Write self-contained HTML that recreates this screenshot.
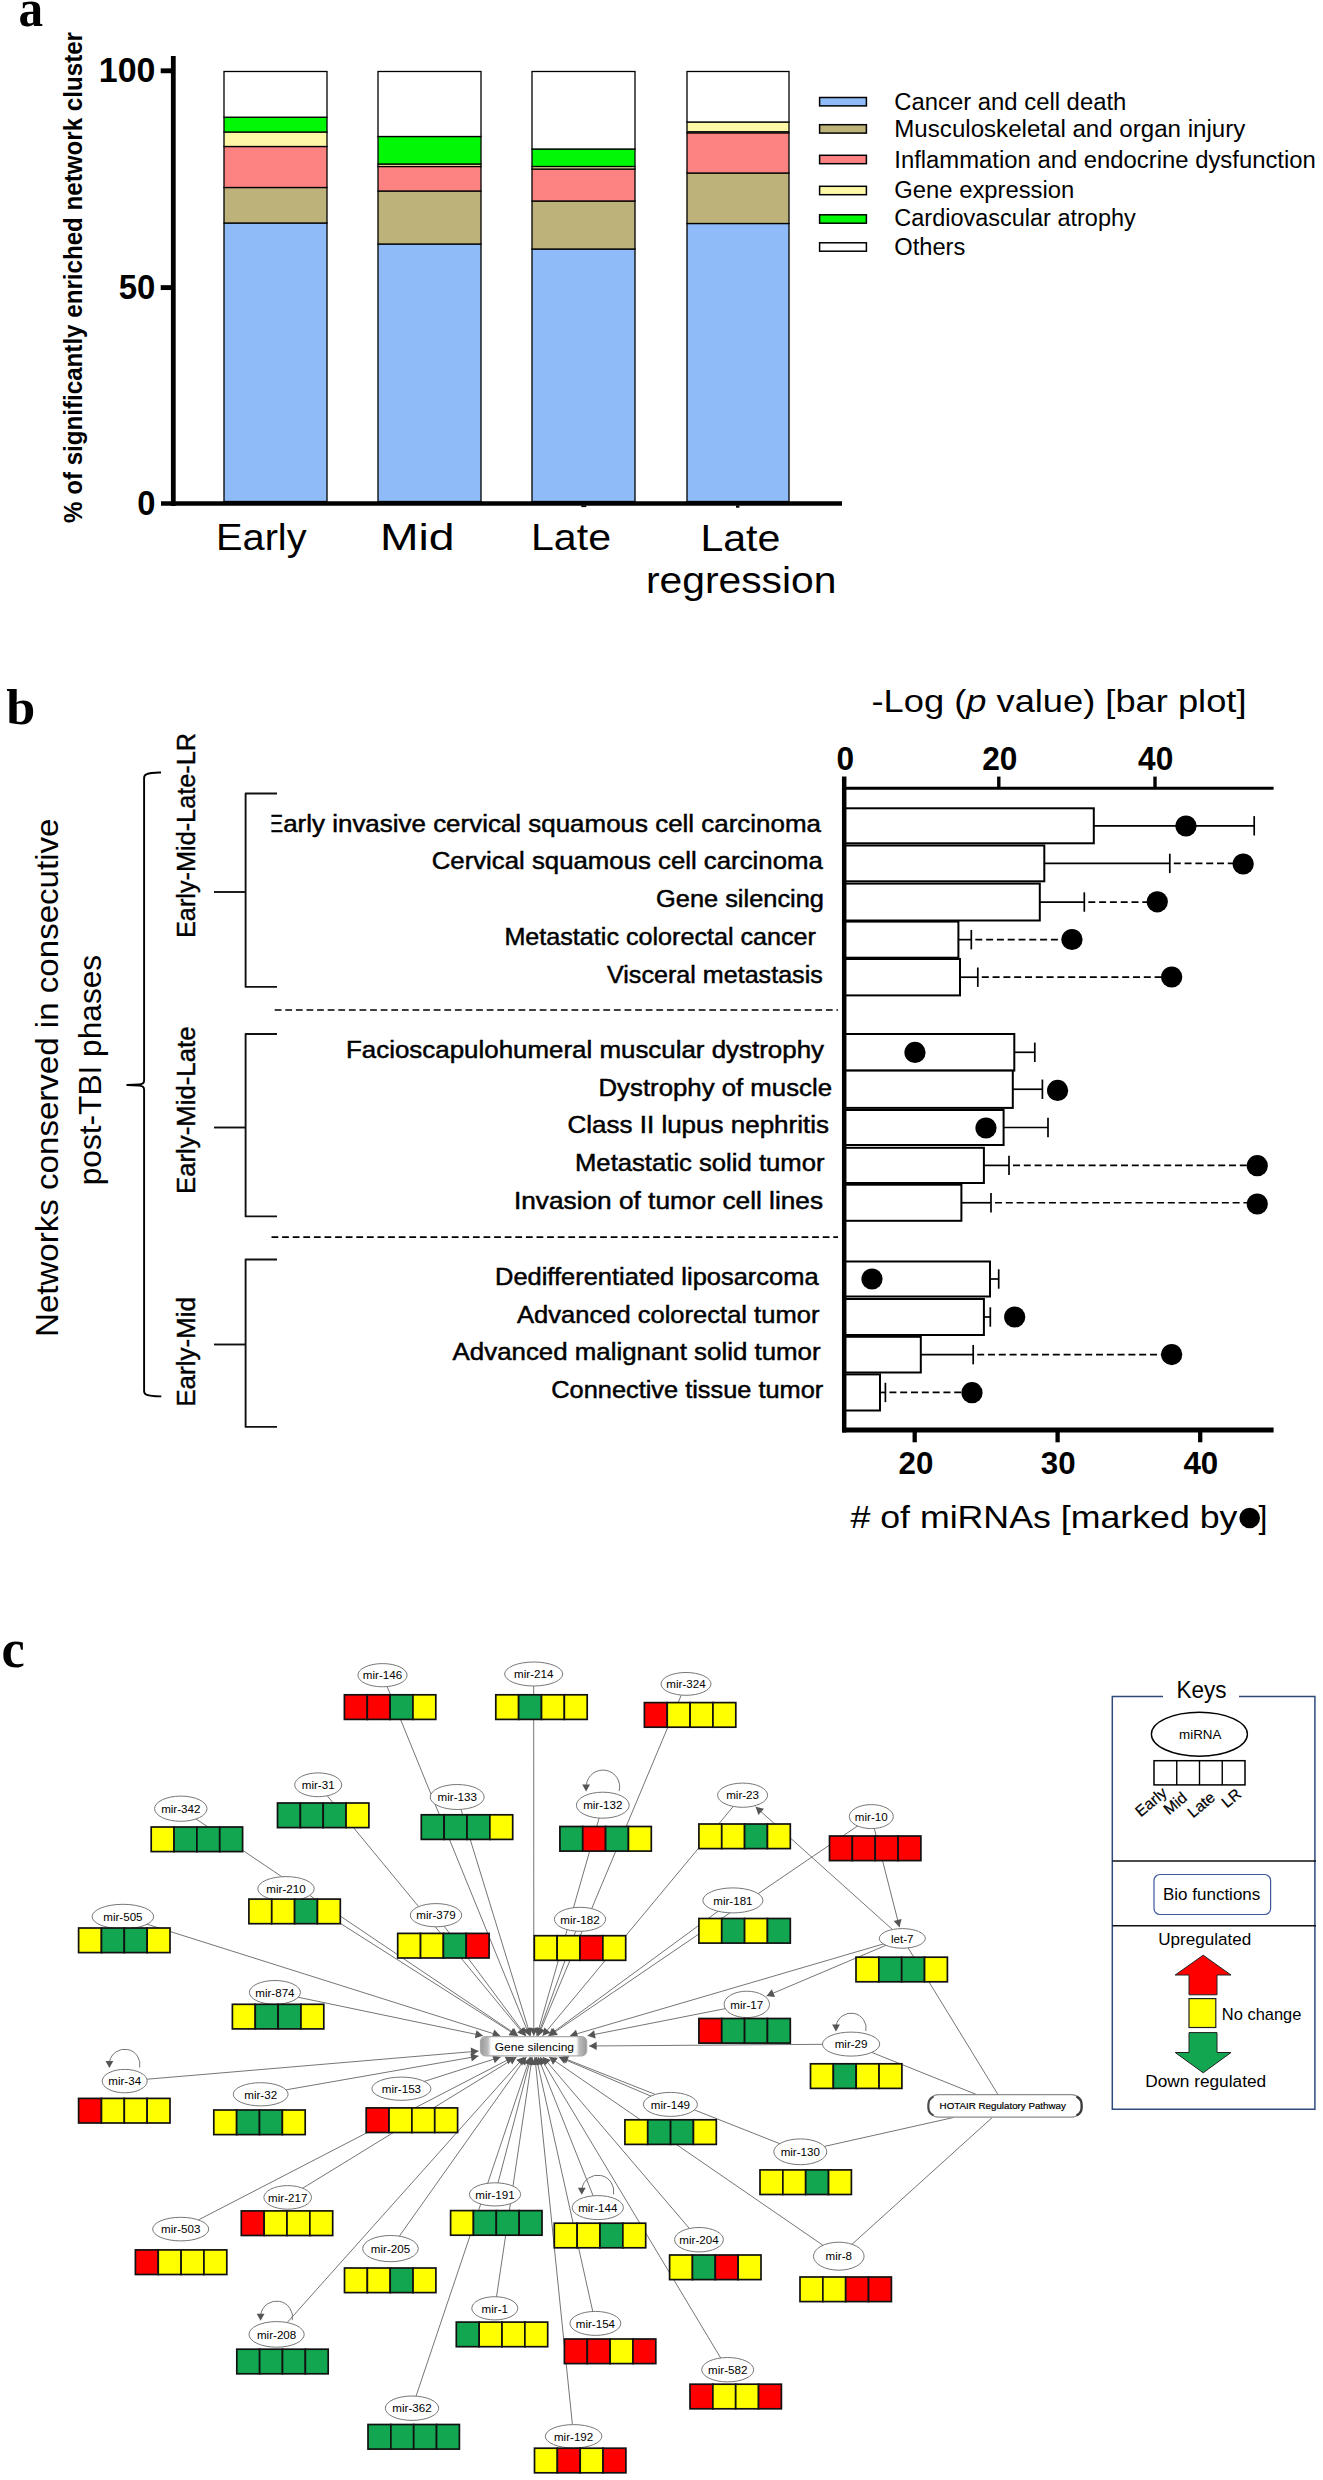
<!DOCTYPE html>
<html><head><meta charset="utf-8"><title>Figure</title>
<style>html,body{margin:0;padding:0;background:#fff}svg{display:block}</style>
</head><body>
<svg width="1323" height="2480" viewBox="0 0 1323 2480">
<rect width="1323" height="2480" fill="#fff"/>
<g id="panelA">
<text x="18.6" y="26.3" font-family="Liberation Serif" font-size="53.5" font-weight="bold" text-anchor="start" fill="#000" textLength="24.6" lengthAdjust="spacingAndGlyphs" >a</text>
<text x="82" y="523" font-family="Liberation Sans" font-size="25" font-weight="bold" text-anchor="start" fill="#000" textLength="491" lengthAdjust="spacingAndGlyphs" transform="rotate(-90 82 523)" >% of significantly enriched network cluster</text>
<rect x="224" y="223" width="103" height="278.5" fill="#8fbcf8" stroke="#000" stroke-width="1.3"/>
<rect x="224" y="187.5" width="103" height="35.5" fill="#beb27b" stroke="#000" stroke-width="1.3"/>
<rect x="224" y="146.5" width="103" height="41.0" fill="#fd8282" stroke="#000" stroke-width="1.3"/>
<rect x="224" y="132" width="103" height="14.5" fill="#fdf7a6" stroke="#000" stroke-width="1.3"/>
<rect x="224" y="117.2" width="103" height="14.799999999999997" fill="#00f806" stroke="#000" stroke-width="1.3"/>
<rect x="224" y="71.5" width="103" height="45.7" fill="#ffffff" stroke="#000" stroke-width="1.3"/>
<rect x="378" y="244" width="103" height="257.5" fill="#8fbcf8" stroke="#000" stroke-width="1.3"/>
<rect x="378" y="191" width="103" height="53" fill="#beb27b" stroke="#000" stroke-width="1.3"/>
<rect x="378" y="166.5" width="103" height="24.5" fill="#fd8282" stroke="#000" stroke-width="1.3"/>
<rect x="378" y="164" width="103" height="2.5" fill="#fdf7a6" stroke="#000" stroke-width="1.3"/>
<rect x="378" y="136.5" width="103" height="27.5" fill="#00f806" stroke="#000" stroke-width="1.3"/>
<rect x="378" y="71.5" width="103" height="65.0" fill="#ffffff" stroke="#000" stroke-width="1.3"/>
<rect x="532" y="249" width="103" height="252.5" fill="#8fbcf8" stroke="#000" stroke-width="1.3"/>
<rect x="532" y="201" width="103" height="48" fill="#beb27b" stroke="#000" stroke-width="1.3"/>
<rect x="532" y="169" width="103" height="32" fill="#fd8282" stroke="#000" stroke-width="1.3"/>
<rect x="532" y="166.5" width="103" height="2.5" fill="#fdf7a6" stroke="#000" stroke-width="1.3"/>
<rect x="532" y="149" width="103" height="17.5" fill="#00f806" stroke="#000" stroke-width="1.3"/>
<rect x="532" y="71.5" width="103" height="77.5" fill="#ffffff" stroke="#000" stroke-width="1.3"/>
<rect x="687" y="223.5" width="102" height="278.0" fill="#8fbcf8" stroke="#000" stroke-width="1.3"/>
<rect x="687" y="173" width="102" height="50.5" fill="#beb27b" stroke="#000" stroke-width="1.3"/>
<rect x="687" y="132.8" width="102" height="40.19999999999999" fill="#fd8282" stroke="#000" stroke-width="1.3"/>
<rect x="687" y="122" width="102" height="10.800000000000011" fill="#fdf7a6" stroke="#000" stroke-width="1.3"/>
<rect x="687" y="71.5" width="102" height="50.5" fill="#ffffff" stroke="#000" stroke-width="1.3"/>
<line x1="687" y1="131.6" x2="789" y2="131.6" stroke="#000" stroke-width="1"/>
<line x1="173.3" y1="56" x2="173.3" y2="506" stroke="#000" stroke-width="4.8"/>
<line x1="161" y1="503.5" x2="842" y2="503.5" stroke="#000" stroke-width="4.6"/>
<rect x="581.3" y="505.5" width="5" height="1.6" fill="#000"/>
<rect x="736" y="505.5" width="3.4" height="2.2" fill="#000"/>
<line x1="160.7" y1="70.8" x2="173.3" y2="70.8" stroke="#000" stroke-width="4.9"/>
<line x1="160.7" y1="287.6" x2="173.3" y2="287.6" stroke="#000" stroke-width="4.9"/>
<text x="155.4" y="82" font-family="Liberation Sans" font-size="34.2" font-weight="bold" text-anchor="end" fill="#000" textLength="56.6" lengthAdjust="spacingAndGlyphs" >100</text>
<text x="155.4" y="298.7" font-family="Liberation Sans" font-size="34.2" font-weight="bold" text-anchor="end" fill="#000" textLength="36.6" lengthAdjust="spacingAndGlyphs" >50</text>
<text x="155.4" y="514.8" font-family="Liberation Sans" font-size="34.2" font-weight="bold" text-anchor="end" fill="#000" textLength="18.2" lengthAdjust="spacingAndGlyphs" >0</text>
<text x="261.3" y="550" font-family="Liberation Sans" font-size="37.6" font-weight="normal" text-anchor="middle" fill="#000" textLength="90.6" lengthAdjust="spacingAndGlyphs" >Early</text>
<text x="417.3" y="550" font-family="Liberation Sans" font-size="37.6" font-weight="normal" text-anchor="middle" fill="#000" textLength="74.6" lengthAdjust="spacingAndGlyphs" >Mid</text>
<text x="571" y="550" font-family="Liberation Sans" font-size="37.6" font-weight="normal" text-anchor="middle" fill="#000" textLength="80" lengthAdjust="spacingAndGlyphs" >Late</text>
<text x="740.4" y="551.2" font-family="Liberation Sans" font-size="37.6" font-weight="normal" text-anchor="middle" fill="#000" textLength="80" lengthAdjust="spacingAndGlyphs" >Late</text>
<text x="741.2" y="592.6" font-family="Liberation Sans" font-size="37.6" font-weight="normal" text-anchor="middle" fill="#000" textLength="190.5" lengthAdjust="spacingAndGlyphs" >regression</text>
<rect x="819.6" y="97.5" width="46.8" height="8.4" fill="#8fbcf8" stroke="#000" stroke-width="1.5"/>
<text x="894.3" y="109.6" font-family="Liberation Sans" font-size="23.5" font-weight="normal" text-anchor="start" fill="#000" textLength="232" lengthAdjust="spacingAndGlyphs" >Cancer and cell death</text>
<rect x="819.6" y="124.7" width="46.8" height="8.4" fill="#beb27b" stroke="#000" stroke-width="1.5"/>
<text x="894.3" y="137.2" font-family="Liberation Sans" font-size="23.5" font-weight="normal" text-anchor="start" fill="#000" textLength="351" lengthAdjust="spacingAndGlyphs" >Musculoskeletal and organ injury</text>
<rect x="819.6" y="155.3" width="46.8" height="8.4" fill="#fd8282" stroke="#000" stroke-width="1.5"/>
<text x="894.3" y="168.1" font-family="Liberation Sans" font-size="23.5" font-weight="normal" text-anchor="start" fill="#000" textLength="421.5" lengthAdjust="spacingAndGlyphs" >Inflammation and endocrine dysfunction</text>
<rect x="819.6" y="186.3" width="46.8" height="8.4" fill="#fdf7a6" stroke="#000" stroke-width="1.5"/>
<text x="894.3" y="198.2" font-family="Liberation Sans" font-size="23.5" font-weight="normal" text-anchor="start" fill="#000" textLength="180" lengthAdjust="spacingAndGlyphs" >Gene expression</text>
<rect x="819.6" y="214.8" width="46.8" height="8.4" fill="#00f806" stroke="#000" stroke-width="1.5"/>
<text x="894.3" y="225.7" font-family="Liberation Sans" font-size="23.5" font-weight="normal" text-anchor="start" fill="#000" textLength="241.5" lengthAdjust="spacingAndGlyphs" >Cardiovascular atrophy</text>
<rect x="819.6" y="242.8" width="46.8" height="8.4" fill="#ffffff" stroke="#000" stroke-width="1.5"/>
<text x="894.3" y="255.1" font-family="Liberation Sans" font-size="23.5" font-weight="normal" text-anchor="start" fill="#000" textLength="71" lengthAdjust="spacingAndGlyphs" >Others</text>
</g>
<g id="panelB">
<text x="6.3" y="723.5" font-family="Liberation Serif" font-size="50" font-weight="bold" text-anchor="start" fill="#000" textLength="29" lengthAdjust="spacingAndGlyphs" >b</text>
<text x="57.8" y="1337" font-family="Liberation Sans" font-size="31.8" font-weight="normal" text-anchor="start" fill="#000" textLength="518.5" lengthAdjust="spacingAndGlyphs" transform="rotate(-90 57.8 1337)" >Networks conserved in consecutive</text>
<text x="101.5" y="1185.3" font-family="Liberation Sans" font-size="31.2" font-weight="normal" text-anchor="start" fill="#000" textLength="230.5" lengthAdjust="spacingAndGlyphs" transform="rotate(-90 101.5 1185.3)" >post-TBI phases</text>
<path d="M161 772.5 Q151 772.3 146.3 774.3 Q144.1 775.3 144.1 778 L144.1 1080.5 Q144.1 1084.3 139 1084.5 L127.2 1085 L139 1085.6 Q144.1 1085.8 144.1 1089.5 L144.1 1391 Q144.1 1393.7 146.3 1394.7 Q151 1396.5 161.3 1396.4" fill="none" stroke="#000" stroke-width="1.9" stroke-linejoin="round"/>
<text x="195.1" y="938" font-family="Liberation Sans" font-size="26" font-weight="normal" text-anchor="start" fill="#000" textLength="205" lengthAdjust="spacingAndGlyphs" transform="rotate(-90 195.1 938)" stroke="#000" stroke-width="0.4">Early-Mid-Late-LR</text>
<text x="195.1" y="1194" font-family="Liberation Sans" font-size="26" font-weight="normal" text-anchor="start" fill="#000" textLength="167.5" lengthAdjust="spacingAndGlyphs" transform="rotate(-90 195.1 1194)" stroke="#000" stroke-width="0.4">Early-Mid-Late</text>
<text x="195.1" y="1406.8" font-family="Liberation Sans" font-size="26" font-weight="normal" text-anchor="start" fill="#000" textLength="109.8" lengthAdjust="spacingAndGlyphs" transform="rotate(-90 195.1 1406.8)" stroke="#000" stroke-width="0.4">Early-Mid</text>
<path d="M277 793.5 H245.6 V986.9 H277" fill="none" stroke="#111" stroke-width="1.9" stroke-linejoin="round"/>
<line x1="214" y1="892" x2="245.6" y2="892" stroke="#111" stroke-width="1.9"/>
<path d="M277 1034 H245.6 V1216.4 H277" fill="none" stroke="#111" stroke-width="1.9" stroke-linejoin="round"/>
<line x1="214" y1="1127.5" x2="245.6" y2="1127.5" stroke="#111" stroke-width="1.9"/>
<path d="M277 1259.5 H245.6 V1426.9 H277" fill="none" stroke="#111" stroke-width="1.9" stroke-linejoin="round"/>
<line x1="214" y1="1344.5" x2="245.6" y2="1344.5" stroke="#111" stroke-width="1.9"/>
<line x1="274.7" y1="1010" x2="838" y2="1010" stroke="#000" stroke-width="1.7" stroke-dasharray="6.8 3.8"/>
<line x1="271.5" y1="1237.2" x2="838" y2="1237.2" stroke="#000" stroke-width="1.7" stroke-dasharray="6.8 3.8"/>
<clipPath id="clipL"><rect x="271.5" y="780" width="600" height="700"/></clipPath>
<g clip-path="url(#clipL)">
<text x="821" y="831.5" font-family="Liberation Sans" font-size="24.6" font-weight="normal" text-anchor="end" fill="#000" textLength="555.1" lengthAdjust="spacingAndGlyphs" stroke="#000" stroke-width="0.5">Early invasive cervical squamous cell carcinoma</text>
<text x="822.8" y="869.4" font-family="Liberation Sans" font-size="24.6" font-weight="normal" text-anchor="end" fill="#000" textLength="391.09999999999997" lengthAdjust="spacingAndGlyphs" stroke="#000" stroke-width="0.5">Cervical squamous cell carcinoma</text>
<text x="824" y="907" font-family="Liberation Sans" font-size="24.6" font-weight="normal" text-anchor="end" fill="#000" textLength="168" lengthAdjust="spacingAndGlyphs" stroke="#000" stroke-width="0.5">Gene silencing</text>
<text x="816" y="944.7" font-family="Liberation Sans" font-size="24.6" font-weight="normal" text-anchor="end" fill="#000" textLength="311.6" lengthAdjust="spacingAndGlyphs" stroke="#000" stroke-width="0.5">Metastatic colorectal cancer</text>
<text x="822.8" y="982.6" font-family="Liberation Sans" font-size="24.6" font-weight="normal" text-anchor="end" fill="#000" textLength="215.79999999999995" lengthAdjust="spacingAndGlyphs" stroke="#000" stroke-width="0.5">Visceral metastasis</text>
<text x="824" y="1058.2" font-family="Liberation Sans" font-size="24.6" font-weight="normal" text-anchor="end" fill="#000" textLength="478" lengthAdjust="spacingAndGlyphs" stroke="#000" stroke-width="0.5">Facioscapulohumeral muscular dystrophy</text>
<text x="832" y="1095.5" font-family="Liberation Sans" font-size="24.6" font-weight="normal" text-anchor="end" fill="#000" textLength="233.5" lengthAdjust="spacingAndGlyphs" stroke="#000" stroke-width="0.5">Dystrophy of muscle</text>
<text x="829" y="1133.2" font-family="Liberation Sans" font-size="24.6" font-weight="normal" text-anchor="end" fill="#000" textLength="261.5" lengthAdjust="spacingAndGlyphs" stroke="#000" stroke-width="0.5">Class II lupus nephritis</text>
<text x="824.5" y="1171.2" font-family="Liberation Sans" font-size="24.6" font-weight="normal" text-anchor="end" fill="#000" textLength="249.5" lengthAdjust="spacingAndGlyphs" stroke="#000" stroke-width="0.5">Metastatic solid tumor</text>
<text x="823" y="1208.8" font-family="Liberation Sans" font-size="24.6" font-weight="normal" text-anchor="end" fill="#000" textLength="309" lengthAdjust="spacingAndGlyphs" stroke="#000" stroke-width="0.5">Invasion of tumor cell lines</text>
<text x="818.6" y="1284.6" font-family="Liberation Sans" font-size="24.6" font-weight="normal" text-anchor="end" fill="#000" textLength="323.6" lengthAdjust="spacingAndGlyphs" stroke="#000" stroke-width="0.5">Dedifferentiated liposarcoma</text>
<text x="819.4" y="1322.5" font-family="Liberation Sans" font-size="24.6" font-weight="normal" text-anchor="end" fill="#000" textLength="302.4" lengthAdjust="spacingAndGlyphs" stroke="#000" stroke-width="0.5">Advanced colorectal tumor</text>
<text x="820.6" y="1360" font-family="Liberation Sans" font-size="24.6" font-weight="normal" text-anchor="end" fill="#000" textLength="368.0" lengthAdjust="spacingAndGlyphs" stroke="#000" stroke-width="0.5">Advanced malignant solid tumor</text>
<text x="823.3" y="1398" font-family="Liberation Sans" font-size="24.6" font-weight="normal" text-anchor="end" fill="#000" textLength="272.0" lengthAdjust="spacingAndGlyphs" stroke="#000" stroke-width="0.5">Connective tissue tumor</text>
</g>
<rect x="844.7" y="808.3" width="249.0999999999999" height="35.0" fill="#fff" stroke="#000" stroke-width="2"/>
<line x1="1093.8" y1="825.8" x2="1254.2" y2="825.8" stroke="#000" stroke-width="1.7"/>
<line x1="1254.2" y1="816.0999999999999" x2="1254.2" y2="835.5" stroke="#000" stroke-width="1.7"/>
<rect x="844.7" y="845.5" width="199.5999999999999" height="35.799999999999955" fill="#fff" stroke="#000" stroke-width="2"/>
<line x1="1044.3" y1="863.4" x2="1169.8" y2="863.4" stroke="#000" stroke-width="1.7"/>
<line x1="1169.8" y1="853.6999999999999" x2="1169.8" y2="873.1" stroke="#000" stroke-width="1.7"/>
<line x1="1173.8" y1="863.4" x2="1243.2" y2="863.4" stroke="#000" stroke-width="1.7" stroke-dasharray="7 3.8"/>
<rect x="844.7" y="883.6" width="195.0999999999999" height="36.89999999999998" fill="#fff" stroke="#000" stroke-width="2"/>
<line x1="1039.8" y1="902.05" x2="1084.3" y2="902.05" stroke="#000" stroke-width="1.7"/>
<line x1="1084.3" y1="892.3499999999999" x2="1084.3" y2="911.75" stroke="#000" stroke-width="1.7"/>
<line x1="1088.3" y1="902.05" x2="1157.3" y2="902.05" stroke="#000" stroke-width="1.7" stroke-dasharray="7 3.8"/>
<rect x="844.7" y="921.6" width="113.69999999999993" height="36.10000000000002" fill="#fff" stroke="#000" stroke-width="2"/>
<line x1="958.4" y1="939.6500000000001" x2="971.3" y2="939.6500000000001" stroke="#000" stroke-width="1.7"/>
<line x1="971.3" y1="929.95" x2="971.3" y2="949.3500000000001" stroke="#000" stroke-width="1.7"/>
<line x1="975.3" y1="939.6500000000001" x2="1072" y2="939.6500000000001" stroke="#000" stroke-width="1.7" stroke-dasharray="7 3.8"/>
<rect x="844.7" y="959" width="115.29999999999995" height="36.39999999999998" fill="#fff" stroke="#000" stroke-width="2"/>
<line x1="960" y1="977.2" x2="977.8" y2="977.2" stroke="#000" stroke-width="1.7"/>
<line x1="977.8" y1="967.5" x2="977.8" y2="986.9000000000001" stroke="#000" stroke-width="1.7"/>
<line x1="981.8" y1="977.2" x2="1171.7" y2="977.2" stroke="#000" stroke-width="1.7" stroke-dasharray="7 3.8"/>
<rect x="844.7" y="1034" width="169.5999999999999" height="36.59999999999991" fill="#fff" stroke="#000" stroke-width="2"/>
<line x1="1014.3" y1="1052.3" x2="1034.8" y2="1052.3" stroke="#000" stroke-width="1.7"/>
<line x1="1034.8" y1="1042.6" x2="1034.8" y2="1062.0" stroke="#000" stroke-width="1.7"/>
<rect x="844.7" y="1070.6" width="168.0999999999999" height="37.30000000000018" fill="#fff" stroke="#000" stroke-width="2"/>
<line x1="1012.8" y1="1089.25" x2="1042.4" y2="1089.25" stroke="#000" stroke-width="1.7"/>
<line x1="1042.4" y1="1079.55" x2="1042.4" y2="1098.95" stroke="#000" stroke-width="1.7"/>
<rect x="844.7" y="1110" width="158.89999999999998" height="35" fill="#fff" stroke="#000" stroke-width="2"/>
<line x1="1003.6" y1="1127.5" x2="1048" y2="1127.5" stroke="#000" stroke-width="1.7"/>
<line x1="1048" y1="1117.8" x2="1048" y2="1137.2" stroke="#000" stroke-width="1.7"/>
<rect x="844.7" y="1147.8" width="139.19999999999993" height="35.200000000000045" fill="#fff" stroke="#000" stroke-width="2"/>
<line x1="983.9" y1="1165.4" x2="1009" y2="1165.4" stroke="#000" stroke-width="1.7"/>
<line x1="1009" y1="1155.7" x2="1009" y2="1175.1000000000001" stroke="#000" stroke-width="1.7"/>
<line x1="1013" y1="1165.4" x2="1257.3" y2="1165.4" stroke="#000" stroke-width="1.7" stroke-dasharray="7 3.8"/>
<rect x="844.7" y="1184.7" width="116.69999999999993" height="36.09999999999991" fill="#fff" stroke="#000" stroke-width="2"/>
<line x1="961.4" y1="1202.75" x2="991" y2="1202.75" stroke="#000" stroke-width="1.7"/>
<line x1="991" y1="1193.05" x2="991" y2="1212.45" stroke="#000" stroke-width="1.7"/>
<line x1="995" y1="1202.75" x2="1257.3" y2="1202.75" stroke="#000" stroke-width="1.7" stroke-dasharray="7 3.8"/>
<rect x="844.7" y="1261.5" width="145.29999999999995" height="35.0" fill="#fff" stroke="#000" stroke-width="2"/>
<line x1="990" y1="1279.0" x2="998.7" y2="1279.0" stroke="#000" stroke-width="1.7"/>
<line x1="998.7" y1="1269.3" x2="998.7" y2="1288.7" stroke="#000" stroke-width="1.7"/>
<rect x="844.7" y="1299" width="139.19999999999993" height="36" fill="#fff" stroke="#000" stroke-width="2"/>
<line x1="983.9" y1="1317.0" x2="990.3" y2="1317.0" stroke="#000" stroke-width="1.7"/>
<line x1="990.3" y1="1307.3" x2="990.3" y2="1326.7" stroke="#000" stroke-width="1.7"/>
<rect x="844.7" y="1336.8" width="76.09999999999991" height="35.700000000000045" fill="#fff" stroke="#000" stroke-width="2"/>
<line x1="920.8" y1="1354.65" x2="973.2" y2="1354.65" stroke="#000" stroke-width="1.7"/>
<line x1="973.2" y1="1344.95" x2="973.2" y2="1364.3500000000001" stroke="#000" stroke-width="1.7"/>
<line x1="977.2" y1="1354.65" x2="1171.7" y2="1354.65" stroke="#000" stroke-width="1.7" stroke-dasharray="7 3.8"/>
<rect x="844.7" y="1374.4" width="35.299999999999955" height="36.09999999999991" fill="#fff" stroke="#000" stroke-width="2"/>
<line x1="880" y1="1392.45" x2="885.4" y2="1392.45" stroke="#000" stroke-width="1.7"/>
<line x1="885.4" y1="1382.75" x2="885.4" y2="1402.15" stroke="#000" stroke-width="1.7"/>
<line x1="889.4" y1="1392.45" x2="972" y2="1392.45" stroke="#000" stroke-width="1.7" stroke-dasharray="7 3.8"/>
<circle cx="1186" cy="826" r="10.6" fill="#000"/>
<circle cx="1243.2" cy="864" r="10.6" fill="#000"/>
<circle cx="1157.3" cy="901.8" r="10.6" fill="#000"/>
<circle cx="1072" cy="939.5" r="10.6" fill="#000"/>
<circle cx="1171.7" cy="977" r="10.6" fill="#000"/>
<circle cx="915" cy="1052.4" r="10.6" fill="#000"/>
<circle cx="1057.6" cy="1090.4" r="10.6" fill="#000"/>
<circle cx="986" cy="1128" r="10.6" fill="#000"/>
<circle cx="1257.3" cy="1165.7" r="10.6" fill="#000"/>
<circle cx="1257.3" cy="1204" r="10.6" fill="#000"/>
<circle cx="872" cy="1279" r="10.6" fill="#000"/>
<circle cx="1014.7" cy="1317" r="10.6" fill="#000"/>
<circle cx="1171.7" cy="1354.6" r="10.6" fill="#000"/>
<circle cx="972" cy="1392.7" r="10.6" fill="#000"/>
<line x1="844.2" y1="776.6" x2="844.2" y2="1432.4" stroke="#000" stroke-width="4.5"/>
<line x1="844" y1="788.2" x2="1273.6" y2="788.2" stroke="#000" stroke-width="3"/>
<line x1="998.8" y1="776.6" x2="998.8" y2="788.5" stroke="#000" stroke-width="3.4"/>
<line x1="1155" y1="776.6" x2="1155" y2="788.5" stroke="#000" stroke-width="3.4"/>
<line x1="842.2" y1="1430" x2="1273.6" y2="1430" stroke="#000" stroke-width="4.9"/>
<line x1="914.7" y1="1430" x2="914.7" y2="1442.3" stroke="#000" stroke-width="4.3"/>
<line x1="1057.6" y1="1430" x2="1057.6" y2="1442.3" stroke="#000" stroke-width="4.3"/>
<line x1="1200.2" y1="1430" x2="1200.2" y2="1442.3" stroke="#000" stroke-width="4.3"/>
<text x="845.2" y="769.9" font-family="Liberation Sans" font-size="32.4" font-weight="bold" text-anchor="middle" fill="#000" textLength="17.6" lengthAdjust="spacingAndGlyphs" >0</text>
<text x="999.8" y="769.9" font-family="Liberation Sans" font-size="32.4" font-weight="bold" text-anchor="middle" fill="#000" textLength="35.2" lengthAdjust="spacingAndGlyphs" >20</text>
<text x="1155.7" y="769.9" font-family="Liberation Sans" font-size="32.4" font-weight="bold" text-anchor="middle" fill="#000" textLength="35.2" lengthAdjust="spacingAndGlyphs" >40</text>
<text x="915.9" y="1473.5" font-family="Liberation Sans" font-size="31.6" font-weight="bold" text-anchor="middle" fill="#000" textLength="34.8" lengthAdjust="spacingAndGlyphs" >20</text>
<text x="1058.2" y="1473.5" font-family="Liberation Sans" font-size="31.6" font-weight="bold" text-anchor="middle" fill="#000" textLength="34.8" lengthAdjust="spacingAndGlyphs" >30</text>
<text x="1200.8" y="1473.5" font-family="Liberation Sans" font-size="31.6" font-weight="bold" text-anchor="middle" fill="#000" textLength="34.8" lengthAdjust="spacingAndGlyphs" >40</text>
<text x="871.5" y="711.6" font-family="Liberation Sans, sans-serif" font-size="32.2" textLength="375" lengthAdjust="spacingAndGlyphs">-Log (<tspan font-style="italic">p</tspan> value) [bar plot]</text>
<text x="850.4" y="1527.6" font-family="Liberation Sans" font-size="32" font-weight="normal" text-anchor="start" fill="#000" textLength="387" lengthAdjust="spacingAndGlyphs" ># of miRNAs [marked by</text>
<text x="1258.5" y="1527.6" font-family="Liberation Sans" font-size="32" font-weight="normal" text-anchor="start" fill="#000" >]</text>
<circle cx="1249.7" cy="1518" r="10.3" fill="#000"/>
</g>
<g id="panelC">
<text x="1.6" y="1666.8" font-family="Liberation Serif, serif" font-size="54" font-weight="bold" textLength="23.2" lengthAdjust="spacingAndGlyphs">c</text>
<line x1="382.5" y1="1675.2" x2="529.5" y2="2035.8" stroke="#757575" stroke-width="1"/>
<line x1="533.7" y1="1674.0" x2="533.8" y2="2035.8" stroke="#757575" stroke-width="1"/>
<line x1="686.0" y1="1683.9" x2="538.3" y2="2035.8" stroke="#757575" stroke-width="1"/>
<line x1="318.2" y1="1784.8" x2="525.1" y2="2035.8" stroke="#757575" stroke-width="1"/>
<line x1="457.2" y1="1797.0" x2="530.5" y2="2035.8" stroke="#757575" stroke-width="1"/>
<line x1="602.8" y1="1805.2" x2="536.8" y2="2035.8" stroke="#757575" stroke-width="1"/>
<line x1="742.6" y1="1795.2" x2="542.6" y2="2035.8" stroke="#757575" stroke-width="1"/>
<line x1="871.3" y1="1816.6" x2="549.4" y2="2035.8" stroke="#757575" stroke-width="1"/>
<line x1="180.8" y1="1808.7" x2="518.1" y2="2035.8" stroke="#757575" stroke-width="1"/>
<line x1="286.0" y1="1888.8" x2="517.1" y2="2035.8" stroke="#757575" stroke-width="1"/>
<line x1="436.0" y1="1915.2" x2="525.9" y2="2035.8" stroke="#757575" stroke-width="1"/>
<line x1="580.0" y1="1919.3" x2="537.7" y2="2035.8" stroke="#757575" stroke-width="1"/>
<line x1="732.9" y1="1900.4" x2="548.3" y2="2035.8" stroke="#757575" stroke-width="1"/>
<line x1="902.3" y1="1938.4" x2="570.0" y2="2035.8" stroke="#757575" stroke-width="1"/>
<line x1="122.9" y1="1916.6" x2="500.2" y2="2035.8" stroke="#757575" stroke-width="1"/>
<line x1="274.9" y1="1992.4" x2="483.0" y2="2035.8" stroke="#757575" stroke-width="1"/>
<line x1="746.8" y1="2004.4" x2="587.6" y2="2035.8" stroke="#757575" stroke-width="1"/>
<line x1="851.1" y1="2044.1" x2="589.1" y2="2046.0" stroke="#757575" stroke-width="1"/>
<line x1="124.7" y1="2081.1" x2="478.5" y2="2051.1" stroke="#757575" stroke-width="1"/>
<line x1="260.7" y1="2094.3" x2="478.5" y2="2056.1" stroke="#757575" stroke-width="1"/>
<line x1="401.4" y1="2088.7" x2="500.6" y2="2057.0" stroke="#757575" stroke-width="1"/>
<line x1="670.4" y1="2104.4" x2="558.8" y2="2057.0" stroke="#757575" stroke-width="1"/>
<line x1="800.3" y1="2151.8" x2="560.6" y2="2057.0" stroke="#757575" stroke-width="1"/>
<line x1="287.7" y1="2197.4" x2="516.5" y2="2057.0" stroke="#757575" stroke-width="1"/>
<line x1="180.7" y1="2229.1" x2="513.3" y2="2057.0" stroke="#757575" stroke-width="1"/>
<line x1="390.5" y1="2248.6" x2="526.3" y2="2057.0" stroke="#757575" stroke-width="1"/>
<line x1="495.0" y1="2194.4" x2="531.0" y2="2057.0" stroke="#757575" stroke-width="1"/>
<line x1="597.8" y1="2207.6" x2="538.0" y2="2057.0" stroke="#757575" stroke-width="1"/>
<line x1="699.0" y1="2239.7" x2="542.9" y2="2057.0" stroke="#757575" stroke-width="1"/>
<line x1="838.8" y1="2256.2" x2="549.2" y2="2057.0" stroke="#757575" stroke-width="1"/>
<line x1="276.6" y1="2334.4" x2="524.3" y2="2057.0" stroke="#757575" stroke-width="1"/>
<line x1="494.8" y1="2308.3" x2="532.2" y2="2057.0" stroke="#757575" stroke-width="1"/>
<line x1="595.4" y1="2323.4" x2="536.2" y2="2057.0" stroke="#757575" stroke-width="1"/>
<line x1="727.7" y1="2369.7" x2="540.2" y2="2057.0" stroke="#757575" stroke-width="1"/>
<line x1="412.0" y1="2408.2" x2="530.2" y2="2057.0" stroke="#757575" stroke-width="1"/>
<line x1="573.6" y1="2436.3" x2="534.9" y2="2057.0" stroke="#757575" stroke-width="1"/>
<line x1="902.3" y1="1938.4" x2="998.0" y2="2094.6" stroke="#757575" stroke-width="1"/>
<line x1="851.1" y1="2044.1" x2="976.7" y2="2094.6" stroke="#757575" stroke-width="1"/>
<line x1="800.3" y1="2151.8" x2="954.0" y2="2117.4" stroke="#757575" stroke-width="1"/>
<line x1="838.8" y1="2256.2" x2="992.4" y2="2117.4" stroke="#757575" stroke-width="1"/>
<line x1="871.3" y1="1816.6" x2="899.5" y2="1927.2" stroke="#757575" stroke-width="1"/>
<line x1="902.3" y1="1938.4" x2="755.6" y2="1806.8" stroke="#757575" stroke-width="1"/>
<line x1="902.3" y1="1938.4" x2="766.5" y2="1996.0" stroke="#757575" stroke-width="1"/>
<polygon points="529.5,2035.8 522.8,2030.4 530.5,2027.3" fill="#555"/>
<polygon points="533.8,2035.8 529.6,2028.3 538.0,2028.3" fill="#555"/>
<polygon points="538.3,2035.8 537.3,2027.3 545.0,2030.5" fill="#555"/>
<polygon points="525.1,2035.8 517.1,2032.6 523.5,2027.3" fill="#555"/>
<polygon points="530.5,2035.8 524.4,2029.8 532.3,2027.4" fill="#555"/>
<polygon points="536.8,2035.8 534.9,2027.4 542.9,2029.7" fill="#555"/>
<polygon points="542.6,2035.8 544.2,2027.4 550.6,2032.7" fill="#555"/>
<polygon points="549.4,2035.8 553.2,2028.1 557.9,2035.0" fill="#555"/>
<polygon points="518.1,2035.8 509.5,2035.1 514.1,2028.1" fill="#555"/>
<polygon points="517.1,2035.8 508.5,2035.3 513.0,2028.2" fill="#555"/>
<polygon points="525.9,2035.8 518.1,2032.3 524.7,2027.3" fill="#555"/>
<polygon points="537.7,2035.8 536.3,2027.3 544.1,2030.2" fill="#555"/>
<polygon points="548.3,2035.8 551.9,2028.0 556.8,2034.7" fill="#555"/>
<polygon points="570.0,2035.8 576.0,2029.7 578.4,2037.7" fill="#555"/>
<polygon points="500.2,2035.8 491.8,2037.5 494.3,2029.6" fill="#555"/>
<polygon points="483.0,2035.8 474.8,2038.3 476.5,2030.2" fill="#555"/>
<polygon points="587.6,2035.8 594.1,2030.3 595.7,2038.4" fill="#555"/>
<polygon points="589.1,2046.0 596.6,2041.8 596.7,2050.1" fill="#555"/>
<polygon points="478.5,2051.1 471.4,2055.9 470.7,2047.6" fill="#555"/>
<polygon points="478.5,2056.1 471.8,2061.5 470.4,2053.3" fill="#555"/>
<polygon points="500.6,2057.0 494.7,2063.3 492.2,2055.3" fill="#555"/>
<polygon points="558.8,2057.0 567.3,2056.1 564.1,2063.8" fill="#555"/>
<polygon points="560.6,2057.0 569.1,2055.9 566.1,2063.6" fill="#555"/>
<polygon points="516.5,2057.0 512.3,2064.5 507.9,2057.4" fill="#555"/>
<polygon points="513.3,2057.0 508.5,2064.2 504.7,2056.8" fill="#555"/>
<polygon points="526.3,2057.0 525.3,2065.5 518.5,2060.7" fill="#555"/>
<polygon points="531.0,2057.0 533.1,2065.3 525.1,2063.2" fill="#555"/>
<polygon points="538.0,2057.0 544.7,2062.5 536.9,2065.5" fill="#555"/>
<polygon points="542.9,2057.0 550.9,2060.0 544.6,2065.4" fill="#555"/>
<polygon points="549.2,2057.0 557.8,2057.8 553.0,2064.7" fill="#555"/>
<polygon points="524.3,2057.0 522.4,2065.4 516.2,2059.8" fill="#555"/>
<polygon points="532.2,2057.0 535.2,2065.1 527.0,2063.8" fill="#555"/>
<polygon points="536.2,2057.0 541.9,2063.4 533.7,2065.2" fill="#555"/>
<polygon points="540.2,2057.0 547.6,2061.3 540.5,2065.6" fill="#555"/>
<polygon points="530.2,2057.0 531.8,2065.5 523.9,2062.8" fill="#555"/>
<polygon points="534.9,2057.0 539.8,2064.1 531.5,2064.9" fill="#555"/>
<polygon points="899.5,1927.2 893.6,1920.9 901.6,1918.9" fill="#555"/>
<polygon points="755.6,1806.8 764.0,1808.8 758.4,1815.0" fill="#555"/>
<polygon points="766.5,1996.0 771.8,1989.3 775.1,1996.9" fill="#555"/>
<defs><linearGradient id="gsg" x1="0" x2="1" y1="0" y2="0"><stop offset="0" stop-color="#999"/><stop offset="0.07" stop-color="#bbb"/><stop offset="0.1" stop-color="#fff"/><stop offset="0.9" stop-color="#fff"/><stop offset="0.93" stop-color="#bbb"/><stop offset="1" stop-color="#999"/></linearGradient></defs>
<rect x="480.5" y="2036.6" width="106.2" height="19.2" rx="5" ry="5" fill="url(#gsg)" stroke="#aaa" stroke-width="1.2"/>
<text x="534.4" y="2050.6" font-family="Liberation Sans, sans-serif" font-size="11.8" text-anchor="middle" textLength="79.2" lengthAdjust="spacingAndGlyphs">Gene silencing</text>
<rect x="928.2" y="2094.7" width="153.6" height="22.5" rx="10" ry="11.2" fill="#fff" stroke="#8c8c8c" stroke-width="1.3"/>
<path d="M1076.5 2096.6 Q1081.6 2099 1081.6 2104 V2108 Q1081.6 2113 1076.5 2115.4" fill="none" stroke="#3c3c3c" stroke-width="2.3"/>
<path d="M933.5 2096.6 Q928.4 2099 928.4 2104 V2108 Q928.4 2113 933.5 2115.4" fill="none" stroke="#4a4a4a" stroke-width="2.1"/>
<text x="939.6" y="2109.2" font-family="Liberation Sans, sans-serif" font-size="9.8" stroke="#000" stroke-width="0.2" textLength="126.3" lengthAdjust="spacingAndGlyphs">HOTAIR Regulatory Pathway</text>
<path d="M619.1 1791.1 A16.7 16.7 0 1 0 586.4 1784.7" fill="none" stroke="#757575" stroke-width="1"/>
<polygon points="586.1,1791.6 582.2,1784.6 590.0,1784.6" fill="#555"/>
<path d="M865.9 2031.1 A15.1 15.1 0 1 0 836.2 2025.4" fill="none" stroke="#757575" stroke-width="1"/>
<polygon points="836.0,2031.6 832.1,2024.6 839.9,2024.6" fill="#555"/>
<path d="M139.7 2067.5 A15.3 15.3 0 1 0 109.6 2061.6" fill="none" stroke="#757575" stroke-width="1"/>
<polygon points="109.4,2068.0 105.5,2061.0 113.3,2061.0" fill="#555"/>
<path d="M292.3 2320.2 A16 16 0 1 0 260.8 2314.1" fill="none" stroke="#757575" stroke-width="1"/>
<polygon points="260.6,2320.7 256.7,2313.7 264.5,2313.7" fill="#555"/>
<path d="M613.5 2194.3 A16 16 0 1 0 582.0 2188.2" fill="none" stroke="#757575" stroke-width="1"/>
<polygon points="581.8,2194.8 577.9,2187.8 585.7,2187.8" fill="#555"/>
<ellipse cx="382.5" cy="1675.2" rx="24.6" ry="11.6" fill="#fff" stroke="#777" stroke-width="1"/>
<text x="382.5" y="1679.4" font-family="Liberation Sans, sans-serif" font-size="11.6" text-anchor="middle">mir-146</text>
<rect x="344.40" y="1694.8" width="22.85" height="24.6" fill="#fe0000" stroke="#111" stroke-width="1.7"/>
<rect x="367.25" y="1694.8" width="22.85" height="24.6" fill="#fe0000" stroke="#111" stroke-width="1.7"/>
<rect x="390.10" y="1694.8" width="22.85" height="24.6" fill="#12a650" stroke="#111" stroke-width="1.7"/>
<rect x="412.95" y="1694.8" width="22.85" height="24.6" fill="#ffff00" stroke="#111" stroke-width="1.7"/>
<ellipse cx="533.7" cy="1674" rx="29" ry="12" fill="#fff" stroke="#777" stroke-width="1"/>
<text x="533.7" y="1678.2" font-family="Liberation Sans, sans-serif" font-size="11.6" text-anchor="middle">mir-214</text>
<rect x="495.80" y="1694.8" width="22.85" height="24.6" fill="#ffff00" stroke="#111" stroke-width="1.7"/>
<rect x="518.65" y="1694.8" width="22.85" height="24.6" fill="#12a650" stroke="#111" stroke-width="1.7"/>
<rect x="541.50" y="1694.8" width="22.85" height="24.6" fill="#ffff00" stroke="#111" stroke-width="1.7"/>
<rect x="564.35" y="1694.8" width="22.85" height="24.6" fill="#ffff00" stroke="#111" stroke-width="1.7"/>
<ellipse cx="686" cy="1683.9" rx="25" ry="11.4" fill="#fff" stroke="#777" stroke-width="1"/>
<text x="686" y="1688.1000000000001" font-family="Liberation Sans, sans-serif" font-size="11.6" text-anchor="middle">mir-324</text>
<rect x="644.40" y="1702.6" width="22.85" height="24.6" fill="#fe0000" stroke="#111" stroke-width="1.7"/>
<rect x="667.25" y="1702.6" width="22.85" height="24.6" fill="#ffff00" stroke="#111" stroke-width="1.7"/>
<rect x="690.10" y="1702.6" width="22.85" height="24.6" fill="#ffff00" stroke="#111" stroke-width="1.7"/>
<rect x="712.95" y="1702.6" width="22.85" height="24.6" fill="#ffff00" stroke="#111" stroke-width="1.7"/>
<ellipse cx="318.2" cy="1784.8" rx="23.5" ry="11.9" fill="#fff" stroke="#777" stroke-width="1"/>
<text x="318.2" y="1789.0" font-family="Liberation Sans, sans-serif" font-size="11.6" text-anchor="middle">mir-31</text>
<rect x="277.50" y="1803" width="22.85" height="24.6" fill="#12a650" stroke="#111" stroke-width="1.7"/>
<rect x="300.35" y="1803" width="22.85" height="24.6" fill="#12a650" stroke="#111" stroke-width="1.7"/>
<rect x="323.20" y="1803" width="22.85" height="24.6" fill="#12a650" stroke="#111" stroke-width="1.7"/>
<rect x="346.05" y="1803" width="22.85" height="24.6" fill="#ffff00" stroke="#111" stroke-width="1.7"/>
<ellipse cx="457.2" cy="1797" rx="27" ry="12.5" fill="#fff" stroke="#777" stroke-width="1"/>
<text x="457.2" y="1801.2" font-family="Liberation Sans, sans-serif" font-size="11.6" text-anchor="middle">mir-133</text>
<rect x="421.30" y="1814.8" width="22.85" height="24.6" fill="#12a650" stroke="#111" stroke-width="1.7"/>
<rect x="444.15" y="1814.8" width="22.85" height="24.6" fill="#12a650" stroke="#111" stroke-width="1.7"/>
<rect x="467.00" y="1814.8" width="22.85" height="24.6" fill="#12a650" stroke="#111" stroke-width="1.7"/>
<rect x="489.85" y="1814.8" width="22.85" height="24.6" fill="#ffff00" stroke="#111" stroke-width="1.7"/>
<ellipse cx="602.8" cy="1805.2" rx="26.4" ry="13" fill="#fff" stroke="#777" stroke-width="1"/>
<text x="602.8" y="1809.4" font-family="Liberation Sans, sans-serif" font-size="11.6" text-anchor="middle">mir-132</text>
<rect x="559.90" y="1826.5" width="22.85" height="24.6" fill="#12a650" stroke="#111" stroke-width="1.7"/>
<rect x="582.75" y="1826.5" width="22.85" height="24.6" fill="#fe0000" stroke="#111" stroke-width="1.7"/>
<rect x="605.60" y="1826.5" width="22.85" height="24.6" fill="#12a650" stroke="#111" stroke-width="1.7"/>
<rect x="628.45" y="1826.5" width="22.85" height="24.6" fill="#ffff00" stroke="#111" stroke-width="1.7"/>
<ellipse cx="742.6" cy="1795.2" rx="25" ry="12.1" fill="#fff" stroke="#777" stroke-width="1"/>
<text x="742.6" y="1799.4" font-family="Liberation Sans, sans-serif" font-size="11.6" text-anchor="middle">mir-23</text>
<rect x="698.90" y="1824" width="22.85" height="24.6" fill="#ffff00" stroke="#111" stroke-width="1.7"/>
<rect x="721.75" y="1824" width="22.85" height="24.6" fill="#ffff00" stroke="#111" stroke-width="1.7"/>
<rect x="744.60" y="1824" width="22.85" height="24.6" fill="#12a650" stroke="#111" stroke-width="1.7"/>
<rect x="767.45" y="1824" width="22.85" height="24.6" fill="#ffff00" stroke="#111" stroke-width="1.7"/>
<ellipse cx="871.3" cy="1816.6" rx="22" ry="12" fill="#fff" stroke="#777" stroke-width="1"/>
<text x="871.3" y="1820.8" font-family="Liberation Sans, sans-serif" font-size="11.6" text-anchor="middle">mir-10</text>
<rect x="829.50" y="1836" width="22.85" height="24.6" fill="#fe0000" stroke="#111" stroke-width="1.7"/>
<rect x="852.35" y="1836" width="22.85" height="24.6" fill="#fe0000" stroke="#111" stroke-width="1.7"/>
<rect x="875.20" y="1836" width="22.85" height="24.6" fill="#fe0000" stroke="#111" stroke-width="1.7"/>
<rect x="898.05" y="1836" width="22.85" height="24.6" fill="#fe0000" stroke="#111" stroke-width="1.7"/>
<ellipse cx="180.8" cy="1808.7" rx="26.2" ry="12.6" fill="#fff" stroke="#777" stroke-width="1"/>
<text x="180.8" y="1812.9" font-family="Liberation Sans, sans-serif" font-size="11.6" text-anchor="middle">mir-342</text>
<rect x="151.20" y="1827" width="22.85" height="24.6" fill="#ffff00" stroke="#111" stroke-width="1.7"/>
<rect x="174.05" y="1827" width="22.85" height="24.6" fill="#12a650" stroke="#111" stroke-width="1.7"/>
<rect x="196.90" y="1827" width="22.85" height="24.6" fill="#12a650" stroke="#111" stroke-width="1.7"/>
<rect x="219.75" y="1827" width="22.85" height="24.6" fill="#12a650" stroke="#111" stroke-width="1.7"/>
<ellipse cx="286" cy="1888.8" rx="28.2" ry="12.2" fill="#fff" stroke="#777" stroke-width="1"/>
<text x="286" y="1893.0" font-family="Liberation Sans, sans-serif" font-size="11.6" text-anchor="middle">mir-210</text>
<rect x="248.90" y="1899.1" width="22.85" height="24.6" fill="#ffff00" stroke="#111" stroke-width="1.7"/>
<rect x="271.75" y="1899.1" width="22.85" height="24.6" fill="#ffff00" stroke="#111" stroke-width="1.7"/>
<rect x="294.60" y="1899.1" width="22.85" height="24.6" fill="#12a650" stroke="#111" stroke-width="1.7"/>
<rect x="317.45" y="1899.1" width="22.85" height="24.6" fill="#ffff00" stroke="#111" stroke-width="1.7"/>
<ellipse cx="436" cy="1915.2" rx="25.7" ry="11.6" fill="#fff" stroke="#777" stroke-width="1"/>
<text x="436" y="1919.4" font-family="Liberation Sans, sans-serif" font-size="11.6" text-anchor="middle">mir-379</text>
<rect x="397.70" y="1933.4" width="22.85" height="24.6" fill="#ffff00" stroke="#111" stroke-width="1.7"/>
<rect x="420.55" y="1933.4" width="22.85" height="24.6" fill="#ffff00" stroke="#111" stroke-width="1.7"/>
<rect x="443.40" y="1933.4" width="22.85" height="24.6" fill="#12a650" stroke="#111" stroke-width="1.7"/>
<rect x="466.25" y="1933.4" width="22.85" height="24.6" fill="#fe0000" stroke="#111" stroke-width="1.7"/>
<ellipse cx="580" cy="1919.3" rx="25.6" ry="12" fill="#fff" stroke="#777" stroke-width="1"/>
<text x="580" y="1923.5" font-family="Liberation Sans, sans-serif" font-size="11.6" text-anchor="middle">mir-182</text>
<rect x="534.30" y="1935.7" width="22.85" height="24.6" fill="#ffff00" stroke="#111" stroke-width="1.7"/>
<rect x="557.15" y="1935.7" width="22.85" height="24.6" fill="#ffff00" stroke="#111" stroke-width="1.7"/>
<rect x="580.00" y="1935.7" width="22.85" height="24.6" fill="#fe0000" stroke="#111" stroke-width="1.7"/>
<rect x="602.85" y="1935.7" width="22.85" height="24.6" fill="#ffff00" stroke="#111" stroke-width="1.7"/>
<ellipse cx="732.9" cy="1900.4" rx="30" ry="12.5" fill="#fff" stroke="#777" stroke-width="1"/>
<text x="732.9" y="1904.6000000000001" font-family="Liberation Sans, sans-serif" font-size="11.6" text-anchor="middle">mir-181</text>
<rect x="698.90" y="1918.5" width="22.85" height="24.6" fill="#ffff00" stroke="#111" stroke-width="1.7"/>
<rect x="721.75" y="1918.5" width="22.85" height="24.6" fill="#12a650" stroke="#111" stroke-width="1.7"/>
<rect x="744.60" y="1918.5" width="22.85" height="24.6" fill="#ffff00" stroke="#111" stroke-width="1.7"/>
<rect x="767.45" y="1918.5" width="22.85" height="24.6" fill="#12a650" stroke="#111" stroke-width="1.7"/>
<ellipse cx="902.3" cy="1938.4" rx="23" ry="9.8" fill="#fff" stroke="#777" stroke-width="1"/>
<text x="902.3" y="1942.6000000000001" font-family="Liberation Sans, sans-serif" font-size="11.6" text-anchor="middle">let-7</text>
<rect x="856.00" y="1957.2" width="22.85" height="24.6" fill="#ffff00" stroke="#111" stroke-width="1.7"/>
<rect x="878.85" y="1957.2" width="22.85" height="24.6" fill="#12a650" stroke="#111" stroke-width="1.7"/>
<rect x="901.70" y="1957.2" width="22.85" height="24.6" fill="#12a650" stroke="#111" stroke-width="1.7"/>
<rect x="924.55" y="1957.2" width="22.85" height="24.6" fill="#ffff00" stroke="#111" stroke-width="1.7"/>
<ellipse cx="122.9" cy="1916.6" rx="30.8" ry="12.3" fill="#fff" stroke="#777" stroke-width="1"/>
<text x="122.9" y="1920.8" font-family="Liberation Sans, sans-serif" font-size="11.6" text-anchor="middle">mir-505</text>
<rect x="78.60" y="1928" width="22.85" height="24.6" fill="#ffff00" stroke="#111" stroke-width="1.7"/>
<rect x="101.45" y="1928" width="22.85" height="24.6" fill="#12a650" stroke="#111" stroke-width="1.7"/>
<rect x="124.30" y="1928" width="22.85" height="24.6" fill="#12a650" stroke="#111" stroke-width="1.7"/>
<rect x="147.15" y="1928" width="22.85" height="24.6" fill="#ffff00" stroke="#111" stroke-width="1.7"/>
<ellipse cx="274.9" cy="1992.4" rx="25.5" ry="11.9" fill="#fff" stroke="#777" stroke-width="1"/>
<text x="274.9" y="1996.6000000000001" font-family="Liberation Sans, sans-serif" font-size="11.6" text-anchor="middle">mir-874</text>
<rect x="232.40" y="2004.3" width="22.85" height="24.6" fill="#ffff00" stroke="#111" stroke-width="1.7"/>
<rect x="255.25" y="2004.3" width="22.85" height="24.6" fill="#12a650" stroke="#111" stroke-width="1.7"/>
<rect x="278.10" y="2004.3" width="22.85" height="24.6" fill="#12a650" stroke="#111" stroke-width="1.7"/>
<rect x="300.95" y="2004.3" width="22.85" height="24.6" fill="#ffff00" stroke="#111" stroke-width="1.7"/>
<ellipse cx="746.8" cy="2004.4" rx="22.7" ry="13.2" fill="#fff" stroke="#777" stroke-width="1"/>
<text x="746.8" y="2008.6000000000001" font-family="Liberation Sans, sans-serif" font-size="11.6" text-anchor="middle">mir-17</text>
<rect x="698.90" y="2018.5" width="22.85" height="24.6" fill="#fe0000" stroke="#111" stroke-width="1.7"/>
<rect x="721.75" y="2018.5" width="22.85" height="24.6" fill="#12a650" stroke="#111" stroke-width="1.7"/>
<rect x="744.60" y="2018.5" width="22.85" height="24.6" fill="#12a650" stroke="#111" stroke-width="1.7"/>
<rect x="767.45" y="2018.5" width="22.85" height="24.6" fill="#12a650" stroke="#111" stroke-width="1.7"/>
<ellipse cx="851.1" cy="2044.1" rx="28.6" ry="12" fill="#fff" stroke="#777" stroke-width="1"/>
<text x="851.1" y="2048.2999999999997" font-family="Liberation Sans, sans-serif" font-size="11.6" text-anchor="middle">mir-29</text>
<rect x="810.50" y="2063.8" width="22.85" height="24.6" fill="#ffff00" stroke="#111" stroke-width="1.7"/>
<rect x="833.35" y="2063.8" width="22.85" height="24.6" fill="#12a650" stroke="#111" stroke-width="1.7"/>
<rect x="856.20" y="2063.8" width="22.85" height="24.6" fill="#ffff00" stroke="#111" stroke-width="1.7"/>
<rect x="879.05" y="2063.8" width="22.85" height="24.6" fill="#ffff00" stroke="#111" stroke-width="1.7"/>
<ellipse cx="124.7" cy="2081.1" rx="22.5" ry="11.7" fill="#fff" stroke="#777" stroke-width="1"/>
<text x="124.7" y="2085.2999999999997" font-family="Liberation Sans, sans-serif" font-size="11.6" text-anchor="middle">mir-34</text>
<rect x="78.60" y="2098.4" width="22.85" height="24.6" fill="#fe0000" stroke="#111" stroke-width="1.7"/>
<rect x="101.45" y="2098.4" width="22.85" height="24.6" fill="#ffff00" stroke="#111" stroke-width="1.7"/>
<rect x="124.30" y="2098.4" width="22.85" height="24.6" fill="#ffff00" stroke="#111" stroke-width="1.7"/>
<rect x="147.15" y="2098.4" width="22.85" height="24.6" fill="#ffff00" stroke="#111" stroke-width="1.7"/>
<ellipse cx="260.7" cy="2094.3" rx="27.4" ry="11.6" fill="#fff" stroke="#777" stroke-width="1"/>
<text x="260.7" y="2098.5" font-family="Liberation Sans, sans-serif" font-size="11.6" text-anchor="middle">mir-32</text>
<rect x="213.80" y="2110" width="22.85" height="24.6" fill="#ffff00" stroke="#111" stroke-width="1.7"/>
<rect x="236.65" y="2110" width="22.85" height="24.6" fill="#12a650" stroke="#111" stroke-width="1.7"/>
<rect x="259.50" y="2110" width="22.85" height="24.6" fill="#12a650" stroke="#111" stroke-width="1.7"/>
<rect x="282.35" y="2110" width="22.85" height="24.6" fill="#ffff00" stroke="#111" stroke-width="1.7"/>
<ellipse cx="401.4" cy="2088.7" rx="29.5" ry="11.6" fill="#fff" stroke="#777" stroke-width="1"/>
<text x="401.4" y="2092.8999999999996" font-family="Liberation Sans, sans-serif" font-size="11.6" text-anchor="middle">mir-153</text>
<rect x="366.20" y="2107.9" width="22.85" height="24.6" fill="#fe0000" stroke="#111" stroke-width="1.7"/>
<rect x="389.05" y="2107.9" width="22.85" height="24.6" fill="#ffff00" stroke="#111" stroke-width="1.7"/>
<rect x="411.90" y="2107.9" width="22.85" height="24.6" fill="#ffff00" stroke="#111" stroke-width="1.7"/>
<rect x="434.75" y="2107.9" width="22.85" height="24.6" fill="#ffff00" stroke="#111" stroke-width="1.7"/>
<ellipse cx="670.4" cy="2104.4" rx="27" ry="12" fill="#fff" stroke="#777" stroke-width="1"/>
<text x="670.4" y="2108.6" font-family="Liberation Sans, sans-serif" font-size="11.6" text-anchor="middle">mir-149</text>
<rect x="624.90" y="2119.8" width="22.85" height="24.6" fill="#ffff00" stroke="#111" stroke-width="1.7"/>
<rect x="647.75" y="2119.8" width="22.85" height="24.6" fill="#12a650" stroke="#111" stroke-width="1.7"/>
<rect x="670.60" y="2119.8" width="22.85" height="24.6" fill="#12a650" stroke="#111" stroke-width="1.7"/>
<rect x="693.45" y="2119.8" width="22.85" height="24.6" fill="#ffff00" stroke="#111" stroke-width="1.7"/>
<ellipse cx="800.3" cy="2151.8" rx="26.5" ry="12.9" fill="#fff" stroke="#777" stroke-width="1"/>
<text x="800.3" y="2156.0" font-family="Liberation Sans, sans-serif" font-size="11.6" text-anchor="middle">mir-130</text>
<rect x="760.00" y="2169.9" width="22.85" height="24.6" fill="#ffff00" stroke="#111" stroke-width="1.7"/>
<rect x="782.85" y="2169.9" width="22.85" height="24.6" fill="#ffff00" stroke="#111" stroke-width="1.7"/>
<rect x="805.70" y="2169.9" width="22.85" height="24.6" fill="#12a650" stroke="#111" stroke-width="1.7"/>
<rect x="828.55" y="2169.9" width="22.85" height="24.6" fill="#ffff00" stroke="#111" stroke-width="1.7"/>
<ellipse cx="287.7" cy="2197.4" rx="23.8" ry="11.8" fill="#fff" stroke="#777" stroke-width="1"/>
<text x="287.7" y="2201.6" font-family="Liberation Sans, sans-serif" font-size="11.6" text-anchor="middle">mir-217</text>
<rect x="241.30" y="2210.9" width="22.85" height="24.6" fill="#fe0000" stroke="#111" stroke-width="1.7"/>
<rect x="264.15" y="2210.9" width="22.85" height="24.6" fill="#ffff00" stroke="#111" stroke-width="1.7"/>
<rect x="287.00" y="2210.9" width="22.85" height="24.6" fill="#ffff00" stroke="#111" stroke-width="1.7"/>
<rect x="309.85" y="2210.9" width="22.85" height="24.6" fill="#ffff00" stroke="#111" stroke-width="1.7"/>
<ellipse cx="180.7" cy="2229.1" rx="28" ry="11.8" fill="#fff" stroke="#777" stroke-width="1"/>
<text x="180.7" y="2233.2999999999997" font-family="Liberation Sans, sans-serif" font-size="11.6" text-anchor="middle">mir-503</text>
<rect x="135.40" y="2249.9" width="22.85" height="24.6" fill="#fe0000" stroke="#111" stroke-width="1.7"/>
<rect x="158.25" y="2249.9" width="22.85" height="24.6" fill="#ffff00" stroke="#111" stroke-width="1.7"/>
<rect x="181.10" y="2249.9" width="22.85" height="24.6" fill="#ffff00" stroke="#111" stroke-width="1.7"/>
<rect x="203.95" y="2249.9" width="22.85" height="24.6" fill="#ffff00" stroke="#111" stroke-width="1.7"/>
<ellipse cx="390.5" cy="2248.6" rx="27.8" ry="13.1" fill="#fff" stroke="#777" stroke-width="1"/>
<text x="390.5" y="2252.7999999999997" font-family="Liberation Sans, sans-serif" font-size="11.6" text-anchor="middle">mir-205</text>
<rect x="344.50" y="2268" width="22.85" height="24.6" fill="#ffff00" stroke="#111" stroke-width="1.7"/>
<rect x="367.35" y="2268" width="22.85" height="24.6" fill="#ffff00" stroke="#111" stroke-width="1.7"/>
<rect x="390.20" y="2268" width="22.85" height="24.6" fill="#12a650" stroke="#111" stroke-width="1.7"/>
<rect x="413.05" y="2268" width="22.85" height="24.6" fill="#ffff00" stroke="#111" stroke-width="1.7"/>
<ellipse cx="495" cy="2194.4" rx="25.6" ry="11.6" fill="#fff" stroke="#777" stroke-width="1"/>
<text x="495" y="2198.6" font-family="Liberation Sans, sans-serif" font-size="11.6" text-anchor="middle">mir-191</text>
<rect x="450.60" y="2210.6" width="22.85" height="24.6" fill="#ffff00" stroke="#111" stroke-width="1.7"/>
<rect x="473.45" y="2210.6" width="22.85" height="24.6" fill="#12a650" stroke="#111" stroke-width="1.7"/>
<rect x="496.30" y="2210.6" width="22.85" height="24.6" fill="#12a650" stroke="#111" stroke-width="1.7"/>
<rect x="519.15" y="2210.6" width="22.85" height="24.6" fill="#12a650" stroke="#111" stroke-width="1.7"/>
<ellipse cx="597.8" cy="2207.6" rx="25.6" ry="12" fill="#fff" stroke="#777" stroke-width="1"/>
<text x="597.8" y="2211.7999999999997" font-family="Liberation Sans, sans-serif" font-size="11.6" text-anchor="middle">mir-144</text>
<rect x="554.30" y="2223.2" width="22.85" height="24.6" fill="#ffff00" stroke="#111" stroke-width="1.7"/>
<rect x="577.15" y="2223.2" width="22.85" height="24.6" fill="#ffff00" stroke="#111" stroke-width="1.7"/>
<rect x="600.00" y="2223.2" width="22.85" height="24.6" fill="#12a650" stroke="#111" stroke-width="1.7"/>
<rect x="622.85" y="2223.2" width="22.85" height="24.6" fill="#ffff00" stroke="#111" stroke-width="1.7"/>
<ellipse cx="699" cy="2239.7" rx="24.4" ry="12.2" fill="#fff" stroke="#777" stroke-width="1"/>
<text x="699" y="2243.8999999999996" font-family="Liberation Sans, sans-serif" font-size="11.6" text-anchor="middle">mir-204</text>
<rect x="669.60" y="2255" width="22.85" height="24.6" fill="#ffff00" stroke="#111" stroke-width="1.7"/>
<rect x="692.45" y="2255" width="22.85" height="24.6" fill="#12a650" stroke="#111" stroke-width="1.7"/>
<rect x="715.30" y="2255" width="22.85" height="24.6" fill="#fe0000" stroke="#111" stroke-width="1.7"/>
<rect x="738.15" y="2255" width="22.85" height="24.6" fill="#ffff00" stroke="#111" stroke-width="1.7"/>
<ellipse cx="838.8" cy="2256.2" rx="25.3" ry="14" fill="#fff" stroke="#777" stroke-width="1"/>
<text x="838.8" y="2260.3999999999996" font-family="Liberation Sans, sans-serif" font-size="11.6" text-anchor="middle">mir-8</text>
<rect x="800.00" y="2277" width="22.85" height="24.6" fill="#ffff00" stroke="#111" stroke-width="1.7"/>
<rect x="822.85" y="2277" width="22.85" height="24.6" fill="#ffff00" stroke="#111" stroke-width="1.7"/>
<rect x="845.70" y="2277" width="22.85" height="24.6" fill="#fe0000" stroke="#111" stroke-width="1.7"/>
<rect x="868.55" y="2277" width="22.85" height="24.6" fill="#fe0000" stroke="#111" stroke-width="1.7"/>
<ellipse cx="276.6" cy="2334.4" rx="27.6" ry="12.8" fill="#fff" stroke="#777" stroke-width="1"/>
<text x="276.6" y="2338.6" font-family="Liberation Sans, sans-serif" font-size="11.6" text-anchor="middle">mir-208</text>
<rect x="236.80" y="2349.2" width="22.85" height="24.6" fill="#12a650" stroke="#111" stroke-width="1.7"/>
<rect x="259.65" y="2349.2" width="22.85" height="24.6" fill="#12a650" stroke="#111" stroke-width="1.7"/>
<rect x="282.50" y="2349.2" width="22.85" height="24.6" fill="#12a650" stroke="#111" stroke-width="1.7"/>
<rect x="305.35" y="2349.2" width="22.85" height="24.6" fill="#12a650" stroke="#111" stroke-width="1.7"/>
<ellipse cx="494.8" cy="2308.3" rx="23" ry="11.6" fill="#fff" stroke="#777" stroke-width="1"/>
<text x="494.8" y="2312.5" font-family="Liberation Sans, sans-serif" font-size="11.6" text-anchor="middle">mir-1</text>
<rect x="456.30" y="2322.1" width="22.85" height="24.6" fill="#12a650" stroke="#111" stroke-width="1.7"/>
<rect x="479.15" y="2322.1" width="22.85" height="24.6" fill="#ffff00" stroke="#111" stroke-width="1.7"/>
<rect x="502.00" y="2322.1" width="22.85" height="24.6" fill="#ffff00" stroke="#111" stroke-width="1.7"/>
<rect x="524.85" y="2322.1" width="22.85" height="24.6" fill="#ffff00" stroke="#111" stroke-width="1.7"/>
<ellipse cx="595.4" cy="2323.4" rx="25.4" ry="12" fill="#fff" stroke="#777" stroke-width="1"/>
<text x="595.4" y="2327.6" font-family="Liberation Sans, sans-serif" font-size="11.6" text-anchor="middle">mir-154</text>
<rect x="564.40" y="2339" width="22.85" height="24.6" fill="#fe0000" stroke="#111" stroke-width="1.7"/>
<rect x="587.25" y="2339" width="22.85" height="24.6" fill="#fe0000" stroke="#111" stroke-width="1.7"/>
<rect x="610.10" y="2339" width="22.85" height="24.6" fill="#ffff00" stroke="#111" stroke-width="1.7"/>
<rect x="632.95" y="2339" width="22.85" height="24.6" fill="#fe0000" stroke="#111" stroke-width="1.7"/>
<ellipse cx="727.7" cy="2369.7" rx="26" ry="12.2" fill="#fff" stroke="#777" stroke-width="1"/>
<text x="727.7" y="2373.8999999999996" font-family="Liberation Sans, sans-serif" font-size="11.6" text-anchor="middle">mir-582</text>
<rect x="690.00" y="2384.2" width="22.85" height="24.6" fill="#fe0000" stroke="#111" stroke-width="1.7"/>
<rect x="712.85" y="2384.2" width="22.85" height="24.6" fill="#ffff00" stroke="#111" stroke-width="1.7"/>
<rect x="735.70" y="2384.2" width="22.85" height="24.6" fill="#ffff00" stroke="#111" stroke-width="1.7"/>
<rect x="758.55" y="2384.2" width="22.85" height="24.6" fill="#fe0000" stroke="#111" stroke-width="1.7"/>
<ellipse cx="412" cy="2408.2" rx="26.7" ry="12.2" fill="#fff" stroke="#777" stroke-width="1"/>
<text x="412" y="2412.3999999999996" font-family="Liberation Sans, sans-serif" font-size="11.6" text-anchor="middle">mir-362</text>
<rect x="368.00" y="2424.5" width="22.85" height="24.6" fill="#12a650" stroke="#111" stroke-width="1.7"/>
<rect x="390.85" y="2424.5" width="22.85" height="24.6" fill="#12a650" stroke="#111" stroke-width="1.7"/>
<rect x="413.70" y="2424.5" width="22.85" height="24.6" fill="#12a650" stroke="#111" stroke-width="1.7"/>
<rect x="436.55" y="2424.5" width="22.85" height="24.6" fill="#12a650" stroke="#111" stroke-width="1.7"/>
<ellipse cx="573.6" cy="2436.3" rx="28.3" ry="11.7" fill="#fff" stroke="#777" stroke-width="1"/>
<text x="573.6" y="2440.5" font-family="Liberation Sans, sans-serif" font-size="11.6" text-anchor="middle">mir-192</text>
<rect x="534.50" y="2448.2" width="22.85" height="24.6" fill="#ffff00" stroke="#111" stroke-width="1.7"/>
<rect x="557.35" y="2448.2" width="22.85" height="24.6" fill="#fe0000" stroke="#111" stroke-width="1.7"/>
<rect x="580.20" y="2448.2" width="22.85" height="24.6" fill="#ffff00" stroke="#111" stroke-width="1.7"/>
<rect x="603.05" y="2448.2" width="22.85" height="24.6" fill="#fe0000" stroke="#111" stroke-width="1.7"/>
<path d="M1163 1696.4 H1112.3 V2109.2 H1314.9 V1696.4 H1239" fill="none" stroke="#2f4a7a" stroke-width="1.5"/>
<text x="1176.5" y="1698" font-family="Liberation Sans, sans-serif" font-size="24.5" textLength="50" lengthAdjust="spacingAndGlyphs">Keys</text>
<ellipse cx="1199.4" cy="1734.2" rx="48" ry="22" fill="#fff" stroke="#000" stroke-width="1.4"/>
<text x="1200.2" y="1738.7" font-family="Liberation Sans, sans-serif" font-size="13" text-anchor="middle" textLength="42.4" lengthAdjust="spacingAndGlyphs">miRNA</text>
<rect x="1154" y="1760.7" width="91" height="24.2" fill="#fff" stroke="#000" stroke-width="1.5"/>
<line x1="1176.75" y1="1760.5" x2="1176.75" y2="1785.1" stroke="#000" stroke-width="1.4"/>
<line x1="1199.5" y1="1760.5" x2="1199.5" y2="1785.1" stroke="#000" stroke-width="1.4"/>
<line x1="1222.25" y1="1760.5" x2="1222.25" y2="1785.1" stroke="#000" stroke-width="1.4"/>
<text x="1140.8" y="1817.4" font-family="Liberation Sans, sans-serif" font-size="15.6" stroke="#000" stroke-width="0.2" transform="rotate(-40 1140.8 1817.4)">Early</text>
<text x="1169" y="1815.6" font-family="Liberation Sans, sans-serif" font-size="15.6" stroke="#000" stroke-width="0.2" transform="rotate(-40 1169 1815.6)">Mid</text>
<text x="1193" y="1818.6" font-family="Liberation Sans, sans-serif" font-size="15.6" stroke="#000" stroke-width="0.2" transform="rotate(-40 1193 1818.6)">Late</text>
<text x="1227" y="1808.6" font-family="Liberation Sans, sans-serif" font-size="15.6" stroke="#000" stroke-width="0.2" transform="rotate(-40 1227 1808.6)">LR</text>
<line x1="1112.3" y1="1861" x2="1316" y2="1861" stroke="#111" stroke-width="1.5"/>
<line x1="1112.3" y1="1925.7" x2="1316" y2="1925.7" stroke="#111" stroke-width="1.5"/>
<rect x="1154" y="1874.5" width="116.6" height="40" rx="6" ry="6" fill="#fff" stroke="#3b5998" stroke-width="1.2"/>
<text x="1163" y="1900" font-family="Liberation Sans, sans-serif" font-size="16.8" textLength="97.3" lengthAdjust="spacingAndGlyphs">Bio functions</text>
<text x="1158.3" y="1945" font-family="Liberation Sans, sans-serif" font-size="16.8" textLength="93" lengthAdjust="spacingAndGlyphs">Upregulated</text>
<polygon points="1203.2,1955.2 1231,1975 1217,1975 1217,1994.8 1189,1994.8 1189,1975 1175.2,1975" fill="#fe0000" stroke="#222" stroke-width="1"/>
<rect x="1189" y="1998.6" width="26.8" height="28.9" fill="#ffff00" stroke="#222" stroke-width="1.2"/>
<text x="1221.8" y="2019.8" font-family="Liberation Sans, sans-serif" font-size="16.6" textLength="79.6" lengthAdjust="spacingAndGlyphs">No change</text>
<polygon points="1203.2,2072.8 1231,2052.5 1217,2052.5 1217,2032.6 1189,2032.6 1189,2052.5 1175.2,2052.5" fill="#12a650" stroke="#222" stroke-width="1"/>
<text x="1145.2" y="2086.7" font-family="Liberation Sans, sans-serif" font-size="16.8" textLength="121" lengthAdjust="spacingAndGlyphs">Down regulated</text>
</g>
</svg>
</body></html>
